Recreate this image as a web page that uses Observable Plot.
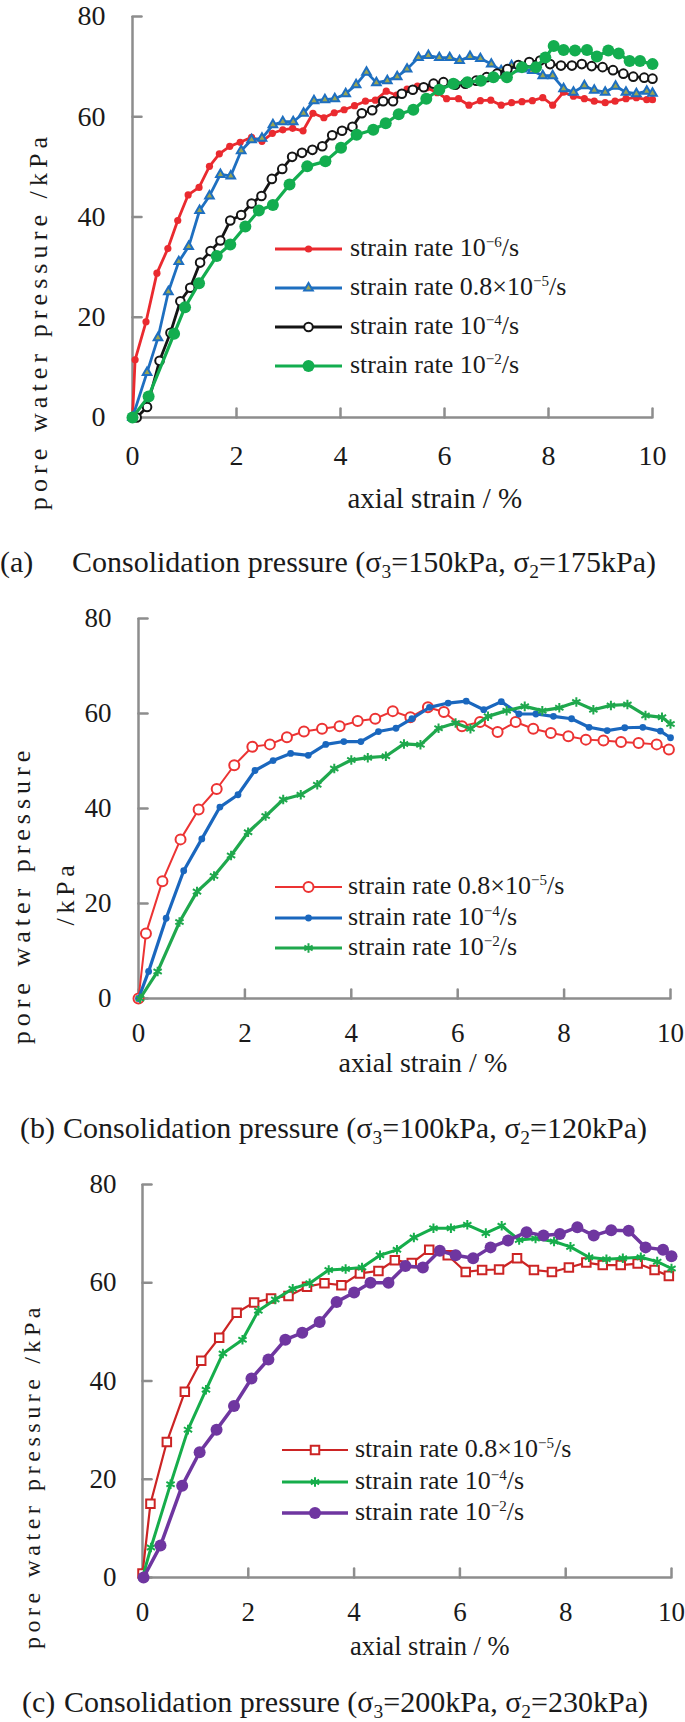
<!DOCTYPE html>
<html>
<head>
<meta charset="utf-8">
<script src="https://cdn.jsdelivr.net/npm/d3@7"></script>
<script src="https://cdn.jsdelivr.net/npm/@observablehq/plot@0.6"></script>
<style>
html, body { margin: 0; padding: 0; background: #fff; }
#page { position: relative; width: 685px; height: 1722px; overflow: hidden;
  font-family: "Liberation Serif", "Times New Roman", serif; color: #1a1a1a; }
.abs { position: absolute; white-space: nowrap; }
.sup { font-size: 0.58em; position: relative; top: -0.6em; line-height: 0; }
.sub { font-size: 0.65em; position: relative; top: 0.3em; line-height: 0; }
</style>
</head>
<body>
<div id="page"></div>
<script>
// ---------- axis ticks ----------
const xTicks = [0, 2, 4, 6, 8, 10];
const yTicks = [0, 20, 40, 60, 80];

// ---------- panel (a) data ----------
const aRedX = [0,0.05,0.26,0.47,0.68,0.87,1.07,1.28,1.48,1.67,1.87,2.07,2.29,2.49,2.69,2.89,3.08,3.28,3.47,3.68,3.88,4.07,4.27,4.48,4.67,4.88,5.08,5.28,5.48,5.66,5.86,6.04,6.27,6.47,6.69,6.89,7.09,7.29,7.49,7.69,7.89,8.08,8.29,8.48,8.69,8.88,9.09,9.28,9.49,9.69,9.89,10.0];
const aRedY = [0,11.5,19.1,28.8,33.7,39.3,44.4,45.9,50.1,52.6,54.1,54.9,55.9,55.1,56.7,57.4,57.7,57.2,60.7,59.8,60.8,61.4,62.2,63.1,63.3,65.1,64.3,65.5,66.1,65.8,64.8,63.6,63.6,62.3,63.2,63.3,62.3,62.8,63.0,63.2,63.8,62.3,64.9,64.1,63.6,63.1,62.8,63.1,63.6,63.8,63.4,63.4];
const aBlueX = [0,0.28,0.49,0.69,0.89,1.08,1.29,1.48,1.69,1.89,2.09,2.29,2.49,2.70,2.89,3.09,3.29,3.49,3.70,3.89,4.10,4.30,4.50,4.69,4.90,5.09,5.28,5.50,5.69,5.90,6.10,6.29,6.49,6.69,6.90,7.09,7.29,7.49,7.69,7.89,8.08,8.29,8.48,8.69,8.88,9.09,9.29,9.49,9.69,9.89,10.0];
const aBlueY = [0,9.0,15.9,25.1,31.1,34.1,41.3,44.2,48.5,48.2,53.2,55.4,55.7,58.4,59.0,59.0,60.7,63.2,63.4,63.6,64.6,66.4,68.9,66.8,67.2,68.0,69.5,71.8,72.2,71.8,71.8,71.2,72.0,71.6,70.5,69.2,70.2,69.5,69.2,68.2,68.2,65.6,64.9,66.2,65.3,64.9,66.1,64.9,64.6,65.1,64.7];
const aBlackX = [0.08,0.28,0.52,0.73,0.92,1.11,1.30,1.50,1.69,1.88,2.09,2.29,2.48,2.68,2.88,3.07,3.26,3.46,3.65,3.84,4.03,4.23,4.41,4.61,4.82,5.01,5.18,5.39,5.60,5.79,5.98,6.21,6.40,6.61,6.81,7.01,7.21,7.42,7.63,7.84,8.03,8.24,8.45,8.64,8.83,9.04,9.24,9.44,9.63,9.84,10.0];
const aBlackY = [0,2.1,11.3,16.9,23.2,25.9,30.9,33.2,35.3,39.3,40.4,42.7,44.2,47.6,49.6,52.0,52.8,53.4,54.1,56.3,57.2,58.0,60.7,61.3,63.1,63.1,64.6,65.4,65.9,66.6,66.9,66.4,66.6,67.2,67.9,68.6,69.5,70.3,70.9,71.2,70.5,70.2,70.2,70.5,70.1,69.9,69.3,68.6,68.0,67.8,67.6];
const aGreenX = [0,0.31,0.80,1.01,1.28,1.62,1.88,2.17,2.43,2.70,3.02,3.36,3.71,4.01,4.31,4.63,4.87,5.12,5.40,5.65,5.90,6.17,6.44,6.70,6.94,7.20,7.49,7.76,7.94,8.10,8.29,8.51,8.74,8.93,9.15,9.35,9.56,9.76,10.0];
const aGreenY = [0,4.2,16.7,22.0,26.8,32.2,34.5,38.1,41.3,42.4,46.5,50.1,51.1,53.8,56.4,57.4,58.7,60.5,61.4,63.6,65.4,66.6,66.9,67.2,67.9,67.9,69.9,69.9,71.8,74.1,73.3,73.2,73.3,72.0,73.2,72.6,71.1,71.1,70.5];

// ---------- panel (b) data ----------
const bRedX = [0,0.14,0.45,0.79,1.13,1.47,1.80,2.14,2.47,2.79,3.11,3.45,3.78,4.12,4.45,4.78,5.11,5.44,5.74,6.08,6.42,6.75,7.09,7.42,7.75,8.08,8.41,8.74,9.07,9.40,9.74,9.97];
const bRedY = [0,13.7,24.7,33.5,39.8,44.1,49.1,53.0,53.5,55.0,56.2,56.8,57.3,58.4,58.9,60.5,59.2,61.3,60.3,57.3,58.2,56.1,58.2,56.8,55.9,55.2,54.5,54.3,54.0,53.8,53.5,52.4];
const bBlueX = [0,0.19,0.52,0.85,1.19,1.53,1.87,2.19,2.53,2.86,3.19,3.52,3.86,4.18,4.51,4.84,5.14,5.47,5.82,6.16,6.49,6.82,7.15,7.47,7.80,8.14,8.47,8.81,9.14,9.48,9.81,10.0];
const bBlueY = [0,5.7,16.9,26.9,33.6,40.3,42.9,48.0,50.1,51.6,51.2,53.5,54.1,54.1,56.2,56.9,58.9,61.3,62.2,62.6,60.8,62.5,59.9,59.9,59.4,58.9,57.1,56.4,57.0,57.1,56.3,54.9];
const bGreenX = [0.03,0.36,0.77,1.10,1.42,1.74,2.06,2.39,2.72,3.05,3.36,3.68,4.00,4.31,4.65,4.99,5.30,5.64,5.96,6.24,6.57,6.92,7.26,7.59,7.91,8.23,8.55,8.88,9.19,9.53,9.84,10.0];
const bGreenY = [0,5.7,16.1,22.5,25.8,30.1,35.0,38.4,41.9,42.9,45.0,48.4,50.2,50.7,51.0,53.6,53.4,56.9,58.0,56.8,59.4,60.6,61.5,60.6,61.2,62.4,60.8,61.7,61.9,59.6,59.2,57.8];

// ---------- panel (c) data ----------
const cRedX = [0,0.15,0.46,0.80,1.11,1.45,1.78,2.11,2.43,2.76,3.11,3.44,3.76,4.11,4.46,4.77,5.09,5.42,5.77,6.11,6.42,6.74,7.08,7.40,7.74,8.06,8.39,8.70,9.04,9.36,9.68,9.95];
const cRedY = [0.8,15.0,27.6,37.8,44.1,48.8,53.9,56.0,56.8,57.3,59.2,59.9,59.5,61.9,62.4,64.6,64.0,66.7,65.6,62.2,62.6,62.7,65.0,62.6,62.2,63.1,64.1,63.6,63.6,63.9,62.6,61.4];
const cGreenX = [0,0.16,0.53,0.86,1.20,1.52,1.89,2.19,2.51,2.84,3.16,3.52,3.84,4.15,4.49,4.81,5.13,5.50,5.83,6.14,6.49,6.79,7.12,7.43,7.78,8.09,8.44,8.77,9.08,9.42,9.73,10.0];
const cGreenY = [0,6.1,19.0,30.1,38.2,45.6,48.4,54.3,56.6,58.8,59.9,62.6,62.8,63.1,65.6,66.7,69.2,71.1,71.1,71.8,70.1,71.6,68.7,69.0,68.4,67.3,65.2,64.8,65.0,65.2,64.3,62.9];
const cPurpleX = [0.02,0.34,0.75,1.08,1.40,1.73,2.06,2.38,2.70,3.02,3.35,3.67,4.00,4.31,4.65,4.97,5.30,5.62,5.92,6.25,6.58,6.91,7.26,7.58,7.89,8.22,8.53,8.86,9.19,9.51,9.84,10.0];
const cPurpleY = [0,6.5,18.7,25.5,30.1,34.9,40.5,44.4,48.4,49.8,52.0,56.1,58.0,60.0,60.0,63.4,63.1,66.5,65.6,65.0,67.2,68.6,70.3,69.6,69.9,71.3,69.6,70.7,70.6,67.2,66.7,65.4];

// ---------- texts ----------
const rateBase = { r6: "10", r5: "0.8×10", r4: "10", r2: "10" };
const rateExp = { r6: "−6", r5: "−5", r4: "−4", r2: "−2" };
const xTitle = "axial strain / %";
const yTitle = "pore water pressure /kPa";
const capTags = ["(a)", "(b)", "(c)"];
const capS3 = ["150", "100", "200"];
const capS2 = ["175", "120", "230"];

// ---------- styling ----------
const AXIS = "#8d8d8d";
const INK = "#1a1a1a";
const FONT = "'Liberation Serif','Times New Roman',serif";
const page = document.getElementById("page");

const tickShape = { draw(ctx, l) { ctx.moveTo(0, 0); ctx.lineTo(0, -l); } };

const symbols = { circle: d3.symbolCircle, triangle: d3.symbolTriangle, square: d3.symbolSquare, asterisk: d3.symbolAsterisk };

function rows(xs, ys) { return xs.map((x, i) => ({ x, y: ys[i] })); }

function panel(cfg) {
  const marks = [
    Plot.ruleY([0], { stroke: AXIS, strokeWidth: 2.5 }),
    Plot.ruleX([0], { stroke: AXIS, strokeWidth: 2.5 }),
    Plot.vector(xTicks, { x: d => d, y: () => 0, length: 9, rotate: 0, anchor: "start", shape: tickShape, stroke: AXIS, strokeWidth: 2.5 }),
    Plot.vector(yTicks, { x: () => 0, y: d => d, length: 9, rotate: 90, anchor: "start", shape: tickShape, stroke: AXIS, strokeWidth: 2.5 }),
    Plot.axisX({ ticks: xTicks, tickSize: 0, tickPadding: cfg.xPad, label: null, fontSize: cfg.tick, fill: INK }),
    Plot.axisY({ ticks: yTicks, tickSize: 0, tickPadding: cfg.yPad, label: null, fontSize: cfg.tick, fill: INK })
  ];
  for (const s of cfg.series) {
    const d = rows(s.x, s.y);
    marks.push(Plot.line(d, { x: "x", y: "y", stroke: s.color, strokeWidth: s.lw }));
    marks.push(Plot.dot(d, { x: "x", y: "y", symbol: s.symbol, r: s.r, fill: s.fill, stroke: s.stroke, strokeWidth: s.sw }));
  }
  const svg = Plot.plot({
    width: 685, height: cfg.height,
    marginTop: cfg.mt, marginBottom: cfg.mb, marginLeft: cfg.ml, marginRight: cfg.mr,
    x: { domain: [0, 10] }, y: { domain: [0, 80] },
    style: { fontFamily: FONT, fontSize: cfg.tick + "px", color: INK, background: "transparent", overflow: "visible" },
    marks
  });
  svg.style.position = "absolute";
  svg.style.left = "0px";
  svg.style.top = cfg.top + "px";
  page.appendChild(svg);

  // legend
  const L = cfg.legend;
  cfg.series.forEach((s, i) => {
    const cy = L.ys[i];
    const w = L.x1 - L.x0;
    const sw = d3.create("svg").attr("width", w).attr("height", 30)
      .style("position", "absolute").style("left", L.x0 + "px").style("top", (cy - 15) + "px").style("overflow", "visible");
    sw.append("line").attr("x1", 0).attr("x2", w).attr("y1", 15).attr("y2", 15)
      .attr("stroke", s.color).attr("stroke-width", s.lw);
    sw.append("path").attr("d", d3.symbol(symbols[s.symbol], s.r * s.r * Math.PI)())
      .attr("transform", `translate(${w / 2},15)`)
      .attr("fill", s.fill || "none").attr("stroke", s.stroke || "none").attr("stroke-width", s.sw || 0);
    page.appendChild(sw.node());
    addText(`strain rate ${rateBase[s.rate]}<span class="sup">${rateExp[s.rate]}</span>/s`,
      { left: L.tx, cy: cy + L.dy, size: L.size });
  });

  // x title
  addText(xTitle, { cx: cfg.xt[0], cy: cfg.xt[1], size: cfg.xt[2], anchor: "middle" });
}

function addText(html, o) {
  const el = document.createElement("div");
  el.className = "abs";
  el.innerHTML = html;
  el.style.fontSize = o.size + "px";
  el.style.lineHeight = o.size + "px";
  page.appendChild(el);
  const left = o.anchor === "middle" ? o.cx - el.offsetWidth / 2 : o.left;
  el.style.left = left + "px";
  el.style.top = (o.cy - o.size / 2) + "px";
  return el;
}

function addVTitle(text, cx, cy, size, length) {
  const el = document.createElement("div");
  el.className = "abs";
  el.textContent = text;
  el.style.fontSize = size + "px";
  el.style.lineHeight = size + "px";
  page.appendChild(el);
  const w0 = el.offsetWidth;
  const ls = (length - w0) / (text.length - 1);
  el.style.letterSpacing = ls + "px";
  const w = el.offsetWidth;
  el.style.left = (cx - w / 2 + ls / 2) + "px";
  el.style.top = (cy - size / 2) + "px";
  el.style.transform = "rotate(-90deg)";
}

function addCaption(i, leftTag, leftRest, cy, size) {
  addText(capTags[i], { left: leftTag, cy, size });
  addText(`Consolidation pressure (σ<span class="sub">3</span>=${capS3[i]}kPa, σ<span class="sub">2</span>=${capS2[i]}kPa)`,
    { left: leftRest, cy, size });
}

// ---------- panel (a) ----------
panel({
  top: 0, height: 480, mt: 16, mb: 63, ml: 132, mr: 33, xPad: 28, yPad: 27, tick: 28,
  xt: [435, 498, 29],
  legend: { ys: [249, 288, 327, 366], x0: 275, x1: 342, tx: 350, size: 26, dy: -1 },
  series: [
    { x: aRedX, y: aRedY, color: "#ea2a2f", lw: 2.8, symbol: "circle", r: 3.6, fill: "#ea2a2f", rate: "r6" },
    { x: aBlueX, y: aBlueY, color: "#1e6fc0", lw: 2.8, symbol: "triangle", r: 3.2, fill: "#9aa552", stroke: "#1e6fc0", sw: 2, rate: "r5" },
    { x: aBlackX, y: aBlackY, color: "#151515", lw: 2.8, symbol: "circle", r: 4.3, fill: "white", stroke: "#151515", sw: 2, rate: "r4" },
    { x: aGreenX, y: aGreenY, color: "#13ad4f", lw: 3.2, symbol: "circle", r: 6, fill: "#13ad4f", rate: "r2" }
  ]
});
addVTitle(yTitle, 36, 321, 26, 373);
addCaption(0, 0, 72, 562, 30);

// ---------- panel (b) ----------
panel({
  top: 600, height: 470, mt: 18, mb: 72, ml: 138, mr: 15, xPad: 24, yPad: 27, tick: 27,
  xt: [423, 1062.5, 28],
  legend: { ys: [887, 918, 948], x0: 275, x1: 342, tx: 348, size: 26, dy: -1 },
  series: [
    { x: bRedX, y: bRedY, color: "#ec3333", lw: 2, symbol: "circle", r: 5, fill: "white", stroke: "#ec3333", sw: 2, rate: "r5" },
    { x: bBlueX, y: bBlueY, color: "#1a67be", lw: 3.2, symbol: "circle", r: 3.4, fill: "#1a67be", rate: "r4" },
    { x: bGreenX, y: bGreenY, color: "#1fa84d", lw: 3.2, symbol: "asterisk", r: 4.5, fill: "none", stroke: "#1fa84d", sw: 2, rate: "r2" }
  ]
});
addVTitle("pore water pressure", 20, 895, 26, 294);
addVTitle("/kPa", 64, 893, 26, 60);
addCaption(1, 20, 20 + 43, 1128, 30);

// ---------- panel (c) ----------
panel({
  top: 1170, height: 450, mt: 14, mb: 43, ml: 142, mr: 14, xPad: 24, yPad: 26, tick: 27,
  xt: [430, 1646, 26.5],
  legend: { ys: [1450, 1482, 1513], x0: 282, x1: 348, tx: 355, size: 26, dy: -1 },
  series: [
    { x: cRedX, y: cRedY, color: "#cc2424", lw: 2.2, symbol: "square", r: 4.8, fill: "white", stroke: "#cc2424", sw: 2, rate: "r5" },
    { x: cGreenX, y: cGreenY, color: "#16ad4b", lw: 3, symbol: "asterisk", r: 4.5, fill: "none", stroke: "#16ad4b", sw: 2, rate: "r4" },
    { x: cPurpleX, y: cPurpleY, color: "#6f36a0", lw: 3.5, symbol: "circle", r: 6, fill: "#6f36a0", rate: "r2" }
  ]
});
addVTitle(yTitle, 30, 1476, 24, 342);
addCaption(2, 22, 22 + 42, 1702, 30);
</script>
</body>
</html>
